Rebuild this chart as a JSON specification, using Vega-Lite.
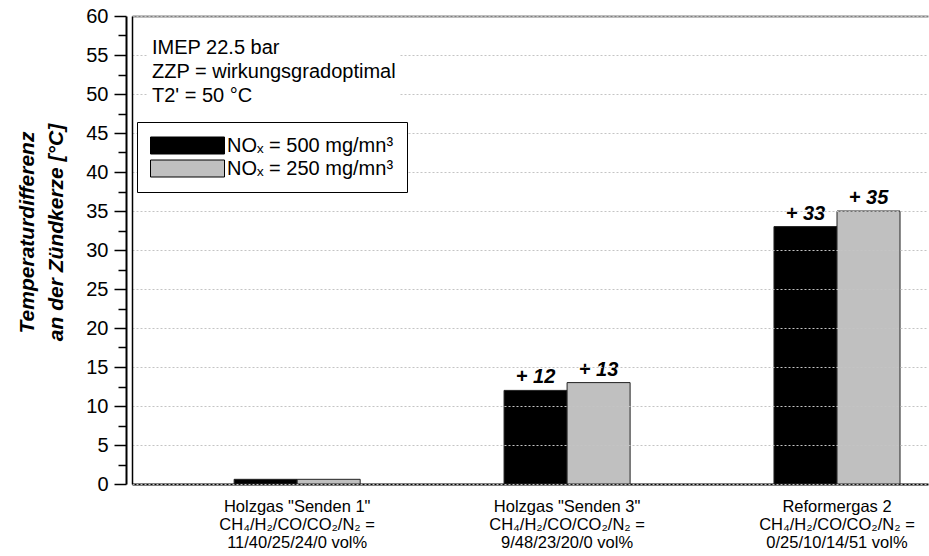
{
  "$schema": "https://vega.github.io/schema/vega-lite/v6.json",
  "width": 796,
  "height": 468,
  "autosize": {"type": "none"},
  "padding": {"left": 132, "top": 16, "right": 1, "bottom": 72},
  "background": "white",
  "config": {"font": "Liberation Sans", "view": {"stroke": null}},
  "data": {
    "values": [
      {"gas": "Holzgas \"Senden 1\"|CH₄/H₂/CO/CO₂/N₂ =|11/40/25/24/0 vol%", "nox": "NOₓ = 500 mg/mn³", "value": 0.6, "label": ""},
      {"gas": "Holzgas \"Senden 1\"|CH₄/H₂/CO/CO₂/N₂ =|11/40/25/24/0 vol%", "nox": "NOₓ = 250 mg/mn³", "value": 0.6, "label": ""},
      {"gas": "Holzgas \"Senden 3\"|CH₄/H₂/CO/CO₂/N₂ =|9/48/23/20/0 vol%", "nox": "NOₓ = 500 mg/mn³", "value": 12, "label": "+ 12"},
      {"gas": "Holzgas \"Senden 3\"|CH₄/H₂/CO/CO₂/N₂ =|9/48/23/20/0 vol%", "nox": "NOₓ = 250 mg/mn³", "value": 13, "label": "+ 13"},
      {"gas": "Reformergas 2|CH₄/H₂/CO/CO₂/N₂ =|0/25/10/14/51 vol%", "nox": "NOₓ = 500 mg/mn³", "value": 33, "label": "+ 33"},
      {"gas": "Reformergas 2|CH₄/H₂/CO/CO₂/N₂ =|0/25/10/14/51 vol%", "nox": "NOₓ = 250 mg/mn³", "value": 35, "label": "+ 35"}
    ]
  },
  "layer": [
    {
      "mark": {"type": "bar", "stroke": "#222222", "strokeWidth": 1},
      "encoding": {
        "x": {
          "field": "gas", "type": "nominal", "sort": null,
          "scale": {"paddingInner": 0.533, "paddingOuter": 0.241, "align": 0.785},
          "axis": {
            "orient": "bottom", "title": null, "domain": true, "domainColor": "#000000", "domainWidth": 2,
            "ticks": false, "tickSize": 0, "labelAngle": 0, "labelFontSize": 16.5, "labelLineHeight": 18,
            "labelPadding": 14, "labelColor": "#000000", "labelLimit": 400,
            "labelExpr": "split(datum.label, '|')"
          }
        },
        "xOffset": {"field": "nox", "type": "nominal", "sort": null, "scale": {"paddingInner": 0, "paddingOuter": 0}},
        "y": {
          "field": "value", "type": "quantitative",
          "scale": {"domain": [0, 60], "nice": false, "zero": true},
          "axis": {
            "orient": "left", "offset": 6, "values": [0, 5, 10, 15, 20, 25, 30, 35, 40, 45, 50, 55, 60],
            "domain": true, "domainColor": "#000000", "domainWidth": 2,
            "ticks": true, "tickSize": 12, "tickColor": "#000000", "tickWidth": 1.5,
            "labelFontSize": 20, "labelPadding": 6, "labelColor": "#000000",
            "grid": false,
            "title": ["Temperaturdifferenz", "an der Zündkerze [°C]"],
            "titleFontSize": 21, "titleFontWeight": "bold", "titleFontStyle": "italic",
            "titleColor": "#000000", "titleLineHeight": 29, "titleX": -89, "titleY": 216
          }
        },
        "fill": {
          "field": "nox", "type": "nominal", "sort": null,
          "scale": {"domain": ["NOₓ = 500 mg/mn³", "NOₓ = 250 mg/mn³"], "range": ["#000000", "#c0c0c0"]},
          "legend": {
            "title": null, "orient": "none", "legendX": 5, "legendY": 106,
            "symbolType": "M-3.7,-0.85H3.7V0.85H-3.7Z", "symbolSize": 400,
            "symbolOffset": 27, "labelOffset": 29,
            "symbolStrokeColor": "#000000", "symbolStrokeWidth": 1,
            "labelFontSize": 20, "labelColor": "#000000", "labelLimit": 400,
            "strokeColor": "#000000", "fillColor": "#ffffff", "padding": 13, "rowPadding": 2,
            "zindex": 2
          }
        }
      }
    },
    {
      "mark": {"type": "text", "fontSize": 20, "fontWeight": "bold", "fontStyle": "italic", "baseline": "bottom", "dy": -3, "color": "#000000"},
      "encoding": {
        "x": {
          "field": "gas", "type": "nominal", "sort": null,
          "axis": {"orient": "top", "title": null, "domain": true, "domainColor": "#808080", "domainWidth": 2, "ticks": false, "labels": false, "grid": false}
        },
        "xOffset": {"field": "nox", "type": "nominal", "sort": null},
        "y": {
          "field": "value", "type": "quantitative",
          "axis": {
            "orient": "left", "offset": 0, "values": [0, 5, 10, 15, 20, 25, 30, 35, 40, 45, 50, 55, 60],
            "domain": true, "domainColor": "#000000", "domainWidth": 1.5,
            "ticks": false, "labels": false, "title": null,
            "grid": true, "gridColor": "#c4c4c4", "gridDash": [2, 2], "gridWidth": 1, "zindex": 1
          }
        },
        "text": {"field": "label", "type": "nominal"}
      }
    },
    {
      "mark": {"type": "point", "opacity": 0},
      "encoding": {
        "x": {"field": "gas", "type": "nominal", "sort": null, "axis": null},
        "y": {
          "field": "value", "type": "quantitative",
          "axis": {
            "orient": "left", "offset": 6, "values": [2.5, 7.5, 12.5, 17.5, 22.5, 27.5, 32.5, 37.5, 42.5, 47.5, 52.5, 57.5],
            "domain": false, "ticks": true, "tickSize": 8, "tickColor": "#000000", "tickWidth": 1.5,
            "labels": false, "grid": false, "title": null
          }
        },
        "shape": {
          "datum": "note",
          "legend": {
            "title": ["IMEP 22.5 bar", "ZZP = wirkungsgradoptimal", "T2' = 50 °C"],
            "titleFontSize": 20, "titleFontWeight": "normal", "titleColor": "#000000",
            "titleLineHeight": 24, "titlePadding": 0, "titleLimit": 500,
            "orient": "none", "legendX": 16, "legendY": 18,
            "labelExpr": "''", "labelFontSize": 1, "symbolSize": 0, "symbolOpacity": 0,
            "fillColor": "#ffffff", "padding": 4, "zindex": 2
          }
        }
      }
    }
  ],
  "resolve": {"axis": {"x": "independent", "y": "independent"}}
}
